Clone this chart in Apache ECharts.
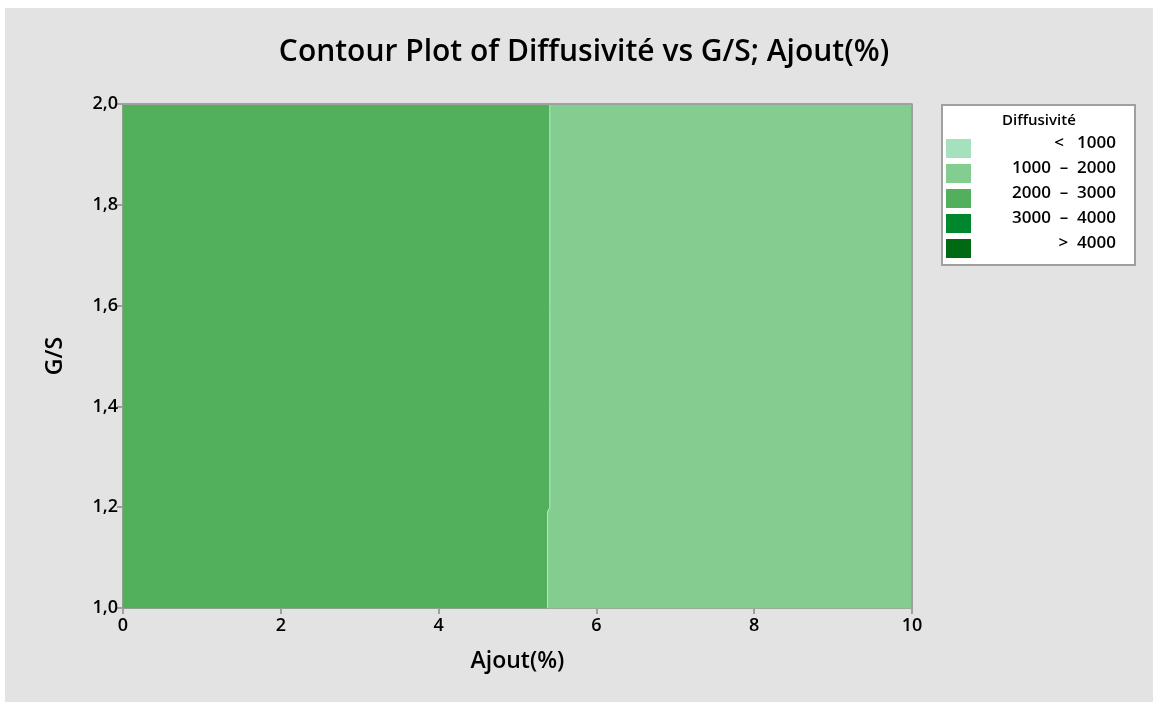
<!DOCTYPE html>
<html>
<head>
<meta charset="utf-8">
<script src="https://cdn.jsdelivr.net/npm/echarts@6/dist/echarts.min.js"></script>
<style>
html, body { margin: 0; padding: 0; background: #ffffff; }
#frame { position: absolute; left: 5px; top: 8px; width: 1148px; height: 694px; background: #e3e3e3; }
#main { width: 1153px; height: 702px; position: absolute; left: 0; top: 0; }
</style>
</head>
<body>
<div id="frame"></div>
<div id="main"></div>
<script>
// contour bands: boundary between 2000-3000 (left) and 1000-2000 (right)
var boundaryY = [2.0, 1.6, 1.4, 1.2, 1.19, 1.0];
var boundaryX = [5.41, 5.41, 5.41, 5.41, 5.38, 5.38];

var legendLabels = ['<   1000', '1000  \u2013  2000', '2000  \u2013  3000', '3000  \u2013  4000', '>  4000'];
var legendColors = ['#a6e1be', '#82cd8f', '#52af5b', '#00862d', '#006a12'];

var xTicks = [0, 2, 4, 6, 8, 10];
var yTicks = [1.0, 1.2, 1.4, 1.6, 1.8, 2.0];

// polygons in data space
var leftPoly = [[0, 1.0], [0, 2.0]];
var rightPoly = [[10, 1.0], [10, 2.0]];
for (var i = 0; i < boundaryY.length; i++) {
    leftPoly.push([boundaryX[i], boundaryY[i]]);
    rightPoly.push([boundaryX[i], boundaryY[i]]);
}
var regions = [
    { poly: leftPoly, color: legendColors[2] },
    { poly: rightPoly, color: legendColors[1] }
];

var chart = echarts.init(document.getElementById('main'));
var font = '"Open Sans", "Noto Sans", sans-serif';

var legendGraphics = [{
    type: 'rect', left: 941, top: 104,
    shape: { width: 193, height: 160 },
    style: { fill: '#ffffff', stroke: '#a0a0a0', lineWidth: 2 }
}, {
    type: 'text', left: 1002, top: 113,
    style: { text: 'Diffusivité', font: '600 15px ' + font, fill: '#000' }
}];
legendLabels.forEach(function (lab, k) {
    legendGraphics.push({
        type: 'rect', left: 946, top: 139 + k * 25,
        shape: { width: 25, height: 19 },
        style: { fill: legendColors[k] }
    });
    legendGraphics.push({
        type: 'text', right: 1153 - 1116, top: 135 + k * 25,
        style: { text: lab, font: '600 17px ' + font, fill: '#000', textAlign: 'right' }
    });
});

var option = {
    backgroundColor: 'transparent',
    animation: false,
    title: {
        text: 'Contour Plot of Diffusivité vs G/S; Ajout(%)',
        left: 579, top: 32, textAlign: 'center',
        textStyle: { fontFamily: font, fontSize: 30, fontWeight: 600, color: '#000' }
    },
    grid: { left: 123, right: 241, top: 104, bottom: 94 },
    xAxis: {
        type: 'value', min: 0, max: 10, interval: 2,
        name: 'Ajout(%)', nameLocation: 'middle', nameGap: 42,
        nameTextStyle: { fontFamily: font, fontSize: 23, fontWeight: 600, color: '#000' },
        axisLine: { show: true, lineStyle: { color: '#a0a0a0', width: 2 } },
        axisTick: { show: true, length: 6, lineStyle: { color: '#a0a0a0', width: 2 } },
        axisLabel: { fontFamily: font, fontSize: 18, fontWeight: 600, color: '#000', margin: 9 },
        splitLine: { show: false }
    },
    yAxis: {
        type: 'value', min: 1.0, max: 2.0, interval: 0.2,
        name: 'G/S', nameLocation: 'middle', nameGap: 56,
        nameTextStyle: { fontFamily: font, fontSize: 23, fontWeight: 600, color: '#000' },
        axisLine: { show: true, lineStyle: { color: '#a0a0a0', width: 2 } },
        axisTick: { show: true, length: 6, lineStyle: { color: '#a0a0a0', width: 2 } },
        axisLabel: {
            fontFamily: font, fontSize: 18, fontWeight: 600, color: '#000', margin: 5,
            formatter: function (v) { return v.toFixed(1).replace('.', ','); }
        },
        splitLine: { show: false }
    },
    graphic: legendGraphics,
    series: [{
        type: 'custom',
        coordinateSystem: 'cartesian2d',
        data: regions.map(function (r, idx) { return [idx]; }),
        renderItem: function (params, api) {
            var r = regions[params.dataIndex];
            var pts = r.poly.map(function (p) { return api.coord(p); });
            return {
                type: 'polygon',
                shape: { points: pts },
                style: { fill: r.color, stroke: r.color, lineWidth: 0.5 }
            };
        },
        z: 1
    }, {
        // light seam along the contour boundary
        type: 'line',
        data: boundaryX.map(function (x, k) { return [x, boundaryY[k]]; }),
        symbol: 'none',
        lineStyle: { color: '#b8e6c2', width: 1 },
        z: 2
    }, {
        // frame on top and right of plot area
        type: 'line',
        data: [[0, 2.0], [10, 2.0], [10, 1.0]],
        symbol: 'none',
        lineStyle: { color: '#a0a0a0', width: 2 },
        z: 3
    }]
};
chart.setOption(option);
</script>
</body>
</html>
